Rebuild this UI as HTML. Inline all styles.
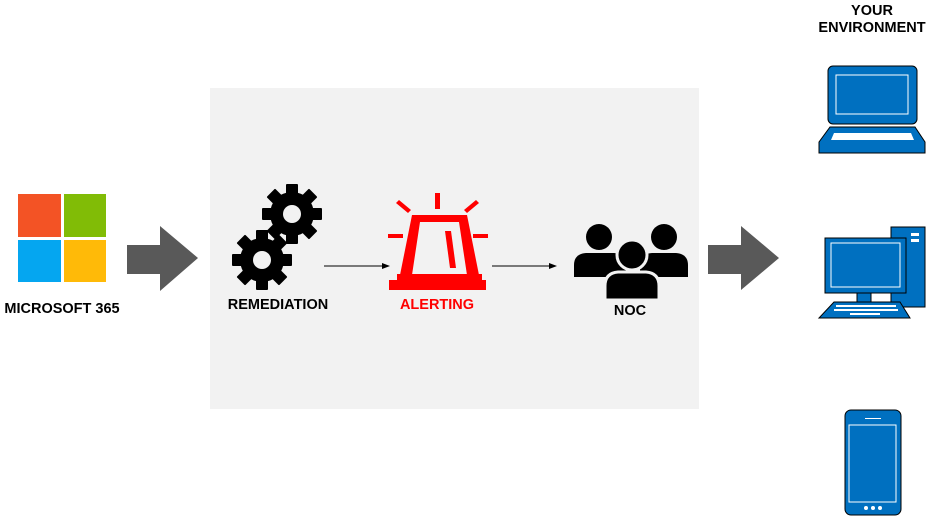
<!DOCTYPE html>
<html><head><style>
body{margin:0;background:#fff;width:932px;height:518px;overflow:hidden;font-family:"Liberation Sans",sans-serif}
</style></head><body>
<svg width="932" height="518" viewBox="0 0 932 518" xmlns="http://www.w3.org/2000/svg" font-family="Liberation Sans, sans-serif" font-weight="bold" font-size="14.5">
<rect x="210" y="88" width="489" height="321" fill="#f2f2f2"/>
<rect x="18" y="194" width="43" height="43" fill="#f35325"/>
<rect x="64" y="194" width="42" height="43" fill="#81bc06"/>
<rect x="18" y="240" width="43" height="42" fill="#05a6f0"/>
<rect x="64" y="240" width="42" height="42" fill="#ffba08"/>
<text x="62" y="313" text-anchor="middle">MICROSOFT 365</text>
<polygon points="127,245 160,245 160,226 198,258 160,291 160,274 127,274" fill="#595959"/>
<polygon points="708,245 741,245 741,226 779,258 741,290 741,274 708,274" fill="#595959"/>
<defs>
<g id="gear">
<circle r="22" fill="#000"/>
<g fill="#000">
<rect x="-6" y="-30" width="12" height="60" rx="1"/>
<rect x="-6" y="-30" width="12" height="60" rx="1" transform="rotate(45)"/>
<rect x="-6" y="-30" width="12" height="60" rx="1" transform="rotate(90)"/>
<rect x="-6" y="-30" width="12" height="60" rx="1" transform="rotate(135)"/>
</g>
<circle r="9" fill="#f2f2f2"/>
</g>
</defs>
<use href="#gear" transform="translate(292,214)"/>
<use href="#gear" transform="translate(262,260)"/>
<text x="278" y="309" text-anchor="middle">REMEDIATION</text>
<line x1="324" y1="266" x2="384" y2="266" stroke="#000" stroke-width="1"/>
<polygon points="390,266 382,263 382,269"/>
<line x1="492" y1="266" x2="551" y2="266" stroke="#000" stroke-width="1"/>
<polygon points="557,266 549,263 549,269"/>
<g fill="#ff0000">
<path d="M412,215 h55 l12,60 h-79 z M420,222 l-8,53 h55 l-8,-53 z" fill-rule="evenodd"/>
<polygon points="445,231 451,231 456,268 450,268"/>
<rect x="397" y="274" width="85" height="6"/>
<rect x="389" y="280" width="97" height="10"/>
<rect x="435" y="193" width="5" height="16"/>
<rect x="388" y="234" width="15" height="4"/>
<rect x="473" y="234" width="15" height="4"/>
<polygon points="396,203 399,200 411,210 408,213"/>
<polygon points="479,203 476,200 464,210 467,213"/>
</g>
<text x="437" y="309" text-anchor="middle" fill="#ff0000">ALERTING</text>
<g fill="#000">
<circle cx="599" cy="237" r="13"/>
<path d="M574,277 v-12 q0,-11 12,-12 h28 q12,1 12,12 v12 z"/>
<circle cx="664" cy="237" r="13"/>
<path d="M640,277 v-12 q0,-11 12,-12 h24 q12,1 12,12 v12 z"/>
<circle cx="632" cy="255" r="15" stroke="#f2f2f2" stroke-width="3"/>
<path d="M605,300 v-14 q0,-13 13,-14 h28 q13,1 13,14 v14 z" stroke="#f2f2f2" stroke-width="3"/>
</g>
<text x="630" y="315" text-anchor="middle">NOC</text>
<text x="872" y="15" text-anchor="middle">YOUR</text>
<text x="872" y="32" text-anchor="middle">ENVIRONMENT</text>
<g fill="#0070c0" stroke="#000" stroke-width="1">
<rect x="828" y="66" width="89" height="58" rx="5"/>
<polygon points="830,127 915,127 925,142 925,153 819,153 819,142"/>
<rect x="891" y="227" width="34" height="80"/>
<rect x="857" y="292" width="14" height="11"/>
<rect x="825" y="238" width="81" height="55"/>
<polygon points="834,302 900,302 910,318 819,318"/>
<rect x="845" y="410" width="56" height="105" rx="6"/>
</g>
<g fill="none" stroke="#fff" stroke-width="1">
<rect x="836" y="75" width="72" height="39"/>
<rect x="831" y="243" width="69" height="44"/>
<rect x="849" y="425" width="47" height="77"/>
</g>
<g fill="#fff">
<polygon points="834,133 911,133 914,140 831,140"/>
<rect x="911" y="233" width="8" height="3"/>
<rect x="911" y="239" width="8" height="3"/>
<rect x="836" y="305" width="60" height="2"/>
<rect x="834" y="309" width="64" height="2"/>
<rect x="850" y="313" width="30" height="2"/>
<rect x="865" y="418" width="16" height="1"/>
<circle cx="866" cy="508" r="2"/><circle cx="873" cy="508" r="2"/><circle cx="880" cy="508" r="2"/>
</g>
</svg>
</body></html>
